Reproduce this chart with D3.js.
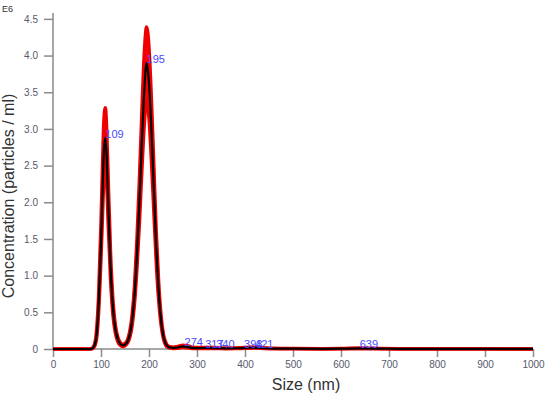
<!DOCTYPE html>
<html>
<head>
<meta charset="utf-8">
<script src="https://cdn.jsdelivr.net/npm/d3@7"></script>
<style>
    body { margin: 0; background: #fff; }
    svg { font-family: "Liberation Sans", Arial, sans-serif; }
</style>
</head>
<body>
<div id="container"></div>
<script>
// size bins (nm)
const sizes = [0, 50, 75, 80, 85, 90, 95, 100, 103, 106, 109, 112, 115, 120, 125, 130, 135, 140, 145, 150,
    155, 160, 165, 170, 175, 180, 185, 190, 195, 200, 205, 210, 215, 220, 225, 230, 235, 240, 245, 250,
    260, 270, 280, 290, 300, 320, 340, 360, 380, 400, 420, 440, 460, 500, 560, 600, 640, 680, 720, 800, 900, 1000];

// mean concentration (E6 particles / ml)
const mean = [0, 0, 0, 0.002, 0.03, 0.15, 0.6, 1.45, 2.1, 2.7, 2.88, 2.6, 2.0, 1.1, 0.55, 0.27, 0.13, 0.07, 0.05, 0.06,
    0.1, 0.2, 0.4, 0.75, 1.3, 2.0, 2.8, 3.5, 3.9, 3.62, 3.0, 2.2, 1.4, 0.8, 0.4, 0.17, 0.07, 0.03, 0.02, 0.015,
    0.02, 0.035, 0.03, 0.015, 0.012, 0.015, 0.012, 0.008, 0.01, 0.015, 0.02, 0.012, 0.006, 0.004, 0.003, 0.004, 0.008, 0.005, 0.003, 0.002, 0.001, 0.001];

// +/- error band
const upper = [0, 0, 0, 0.005, 0.04, 0.2, 0.72, 1.7, 2.45, 3.1, 3.29, 2.95, 2.3, 1.28, 0.65, 0.32, 0.16, 0.09, 0.065, 0.075,
    0.12, 0.24, 0.47, 0.87, 1.5, 2.3, 3.2, 4.0, 4.39, 4.1, 3.4, 2.5, 1.6, 0.92, 0.46, 0.2, 0.09, 0.04, 0.03, 0.025,
    0.035, 0.05, 0.045, 0.025, 0.02, 0.022, 0.018, 0.012, 0.014, 0.02, 0.028, 0.018, 0.009, 0.006, 0.005, 0.006, 0.012, 0.008, 0.005, 0.003, 0.002, 0.001];
const lower = [0, 0, 0, 0, 0.02, 0.11, 0.5, 1.25, 1.8, 2.35, 2.5, 2.25, 1.72, 0.94, 0.46, 0.22, 0.1, 0.05, 0.035, 0.045,
    0.08, 0.16, 0.33, 0.64, 1.12, 1.72, 2.42, 3.05, 3.4, 3.15, 2.58, 1.9, 1.2, 0.68, 0.34, 0.14, 0.05, 0.02, 0.012, 0.008,
    0.01, 0.022, 0.018, 0.008, 0.006, 0.008, 0.007, 0.004, 0.006, 0.01, 0.013, 0.007, 0.003, 0.002, 0.001, 0.002, 0.004, 0.002, 0.001, 0.001, 0, 0];

// peak labels
const peakSizes = [109, 195, 274, 317, 340, 398, 421, 639];
const peakValues = [2.88, 3.9, 0.035, 0.015, 0.013, 0.015, 0.02, 0.008];

const xTicks = [0, 100, 200, 300, 400, 500, 600, 700, 800, 900, 1000];
const yTicks = [0, 0.5, 1.0, 1.5, 2.0, 2.5, 3.0, 3.5, 4.0, 4.5];

const width = 556;
const height = 395;
const margin = {left: 53, right: 23, top: 13, bottom: 46};

const x = d3.scaleLinear().domain([0, 1000]).range([margin.left, width - margin.right]);
const y = d3.scaleLinear().domain([0, 4.58]).range([height - margin.bottom, margin.top]);

const svg = d3.select('#container').append('svg')
    .attr('width', width)
    .attr('height', height);

const data = sizes.map((s, i) => ({size: s, mean: mean[i], hi: upper[i], lo: lower[i]}));

const axisColor = '#8a8a8a';
const tickText = '#55596a';

// axes
const xAxis = svg.append('g')
    .attr('transform', `translate(0 ${y(0)})`)
    .call(d3.axisBottom(x).tickValues(xTicks).tickSize(8).tickPadding(4).tickFormat(d3.format('d')));
const yAxis = svg.append('g')
    .attr('transform', `translate(${x(0)} 0)`)
    .call(d3.axisLeft(y).tickValues(yTicks).tickSize(9).tickPadding(6)
        .tickFormat((d) => d === 0 ? '0' : d3.format('.1f')(d)));

[xAxis, yAxis].forEach((ax) => {
    ax.select('.domain').attr('stroke', axisColor).attr('stroke-width', 1.5);
    ax.selectAll('.tick line').attr('stroke', axisColor).attr('stroke-width', 1.5);
    ax.selectAll('.tick text').attr('fill', tickText).style('font-size', '10px')
        .style('font-family', '"Liberation Sans", Arial, sans-serif');
});
// no outer tick overhang on y top
yAxis.select('.domain').attr('d', `M0,${y(4.58)}V${y(0)}`);
xAxis.select('.domain').attr('d', `M${x(0)},0H${x(1000)}`);

// red error band
const curve = d3.curveMonotoneX;
svg.append('path')
    .datum(data)
    .attr('fill', '#ff0000')
    .attr('d', d3.area().curve(curve).x((d) => x(d.size)).y0((d) => y(d.lo)).y1((d) => y(d.hi)));
['hi', 'lo'].forEach((k) => {
    svg.append('path')
        .datum(data)
        .attr('fill', 'none')
        .attr('stroke', '#ee0000')
        .attr('stroke-width', 3.5)
        .attr('d', d3.line().curve(curve).x((d) => x(d.size)).y((d) => y(d[k])));
});

// mean line
svg.append('path')
    .datum(data)
    .attr('fill', 'none')
    .attr('stroke', '#000')
    .attr('stroke-width', 2.2)
    .attr('d', d3.line().curve(curve).x((d) => x(d.size)).y((d) => y(d.mean)));

// peak labels
svg.append('g').selectAll('text').data(peakSizes).enter().append('text')
    .attr('x', (d) => x(d))
    .attr('y', (d, i) => y(peakValues[i]))
    .style('font-size', '11px')
    .style('fill', '#4a4aff')
    .text((d) => d);

// titles
svg.append('text')
    .attr('x', 2)
    .attr('y', 12)
    .style('font-size', '9px')
    .style('fill', '#333')
    .text('E6');

svg.append('text')
    .attr('transform', `translate(${14} ${(y(0) + y(4.58)) / 2 + 15}) rotate(-90)`)
    .attr('text-anchor', 'middle')
    .style('font-size', '16px')
    .style('fill', '#333')
    .text('Concentration (particles / ml)');

svg.append('text')
    .attr('x', 306)
    .attr('y', 390)
    .attr('text-anchor', 'middle')
    .style('font-size', '16px')
    .style('fill', '#333')
    .text('Size (nm)');
</script>
</body>
</html>
